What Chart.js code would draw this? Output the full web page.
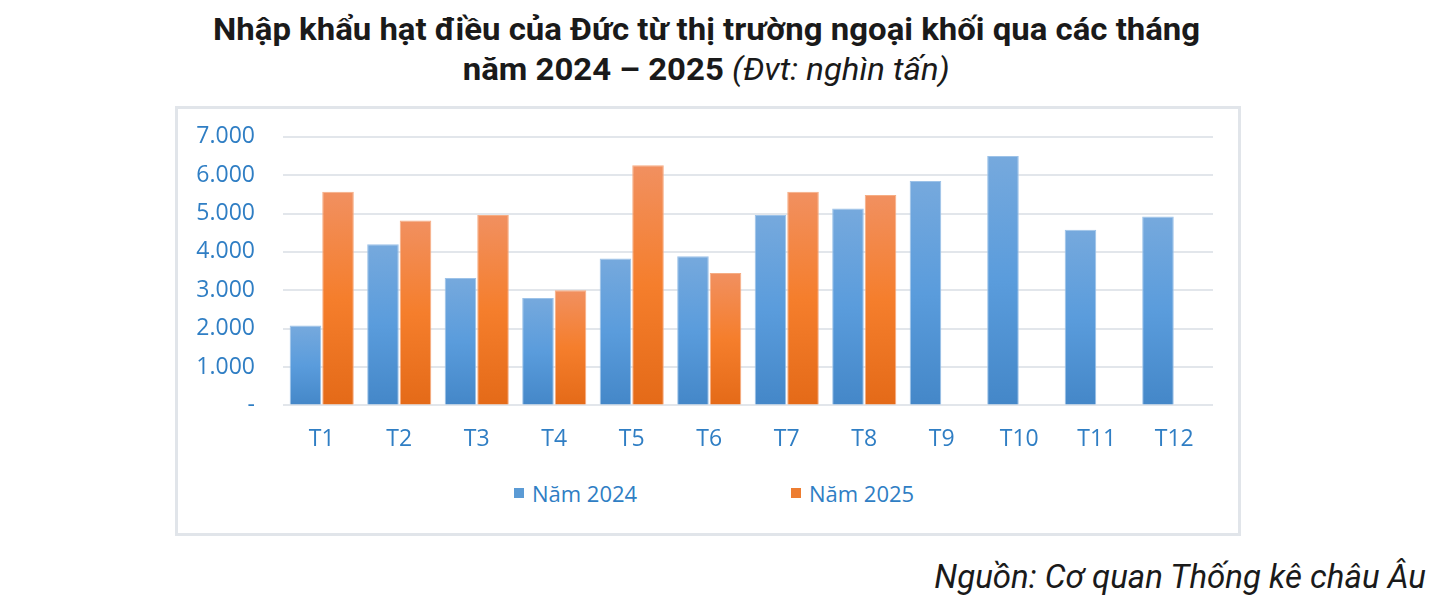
<!DOCTYPE html>
<html>
<head>
<meta charset="utf-8">
<script src="https://cdn.jsdelivr.net/npm/chart.js@4.4.1/dist/chart.umd.min.js"></script>
<style>
  html, body { margin: 0; padding: 0; background: #fff; }
  body { width: 1456px; height: 612px; position: relative; overflow: hidden; font-family: Roboto, "Noto Sans", sans-serif; }
  .title { position: absolute; left: 0; width: 1413px; text-align: center; font-weight: 700; color: #1a1a1a; white-space: nowrap; }
  .title span.inner { display: inline-block; transform-origin: center center; }
  #t1 { top: 10px; font-size: 31px; line-height: 40px; }
  #t2 { top: 50px; font-size: 31px; line-height: 40px; }
  #t2 i { font-weight: 400; }
  #box { position: absolute; left: 175px; top: 106px; width: 1060px; height: 424px; border: 3px solid #e1e5ea; box-sizing: content-box; }
  #canvasWrap { position: absolute; left: 0; top: -14px; width: 1060px; height: 378px; }
  #legend { position: absolute; top: 369px; left: 0; width: 1060px; height: 26px; font-family: "Open Sans", sans-serif; font-size: 22px; color: #2f7ec4; }
  #legend .item { position: absolute; top: 0; display: flex; align-items: center; white-space: nowrap; }
  #legend .sw { width: 10px; height: 10px; margin-right: 8px; }
  #source { position: absolute; right: 30px; top: 557px; font-style: italic; font-size: 33px; color: #1a1a1a; white-space: nowrap; }
</style>
</head>
<body>
<div class="title" id="t1"><span class="inner">Nhập khẩu hạt điều của Đức từ thị trường ngoại khối qua các tháng</span></div>
<div class="title" id="t2"><span class="inner">năm 2024 – 2025 <i>(Đvt: nghìn tấn)</i></span></div>
<div id="box">
  <div id="canvasWrap"><canvas id="c"></canvas></div>
  <div id="legend"></div>
</div>
<div id="source">Nguồn: Cơ quan Thống kê châu Âu</div>
<script>
const categories = ["T1","T2","T3","T4","T5","T6","T7","T8","T9","T10","T11","T12"];
const values2024 = [2080, 4200, 3320, 2800, 3830, 3890, 4960, 5130, 5850, 6500, 4580, 4920];
const values2025 = [5570, 4820, 4960, 3000, 6260, 3450, 5570, 5480, null, null, null, null];
const seriesLabels = ["Năm 2024", "Năm 2025"];
const yTicks = [0, 1000, 2000, 3000, 4000, 5000, 6000, 7000];

// Title width fitting
function fitWidth(id, target) {
  const el = document.querySelector('#' + id + ' .inner');
  const w = el.getBoundingClientRect().width;
  el.style.transform = 'scaleX(' + (target / w) + ')';
}
fitWidth('t1', 987);
fitWidth('t2', 487);

const blueStops = ['#76a9dd', '#5a9cdc', '#4487c8'];
const orangeStops = ['#f19060', '#f57e2c', '#e46a18'];

function gradFill(stops, base) {
  return function(context) {
    const chart = context.chart;
    if (!chart.chartArea || !context.parsed || context.parsed.y == null) return base;
    const y = chart.scales.y;
    const top = y.getPixelForValue(context.parsed.y);
    const bottom = y.getPixelForValue(0);
    const g = chart.ctx.createLinearGradient(0, top, 0, bottom);
    g.addColorStop(0, stops[0]);
    g.addColorStop(0.5, stops[1]);
    g.addColorStop(1, stops[2]);
    return g;
  };
}

const labelColor = '#2f7ec4';
const labelFont = { family: '"Open Sans", sans-serif', size: 23 };

const chart = new Chart(document.getElementById('c'), {
  type: 'bar',
  data: {
    labels: categories,
    datasets: [
      { label: seriesLabels[0], data: values2024, backgroundColor: gradFill(blueStops, '#5b9bd5'), borderColor: '#9cc2e8', borderWidth: 1, legendColor: '#5b9bd5' },
      { label: seriesLabels[1], data: values2025, backgroundColor: gradFill(orangeStops, '#ed7d31'), borderColor: '#f6ad84', borderWidth: 1, legendColor: '#ed7d31' }
    ]
  },
  options: {
    responsive: true,
    maintainAspectRatio: false,
    animation: false,
    layout: { padding: { top: 12, right: 25, bottom: 0, left: 0 } },
    datasets: { bar: { categoryPercentage: 0.84, barPercentage: 0.97 } },
    plugins: { legend: { display: false }, tooltip: { enabled: false } },
    scales: {
      x: {
        grid: { display: false, drawTicks: false },
        border: { display: false },
        ticks: { color: labelColor, font: labelFont, padding: 20 }
      },
      y: {
        min: 0, max: 7000,
        afterBuildTicks: s => { s.ticks = yTicks.map(v => ({ value: v })); },
        afterFit: s => { s.width = 105; },
        grid: { color: '#e2e6eb', lineWidth: 2, drawTicks: false },
        border: { display: false },
        ticks: {
          color: labelColor, font: labelFont, padding: 28,
          callback: v => v === 0 ? '-' : v.toLocaleString('de-DE')
        }
      }
    }
  }
});

// HTML legend from datasets
const legendEl = document.getElementById('legend');
const legendLefts = [336, 613];
chart.data.datasets.forEach((ds, i) => {
  const item = document.createElement('div');
  item.className = 'item';
  item.style.left = legendLefts[i] + 'px';
  const sw = document.createElement('span');
  sw.className = 'sw';
  sw.style.background = ds.legendColor;
  const tx = document.createElement('span');
  tx.textContent = ds.label;
  item.appendChild(sw); item.appendChild(tx);
  legendEl.appendChild(item);
});
</script>
</body>
</html>
